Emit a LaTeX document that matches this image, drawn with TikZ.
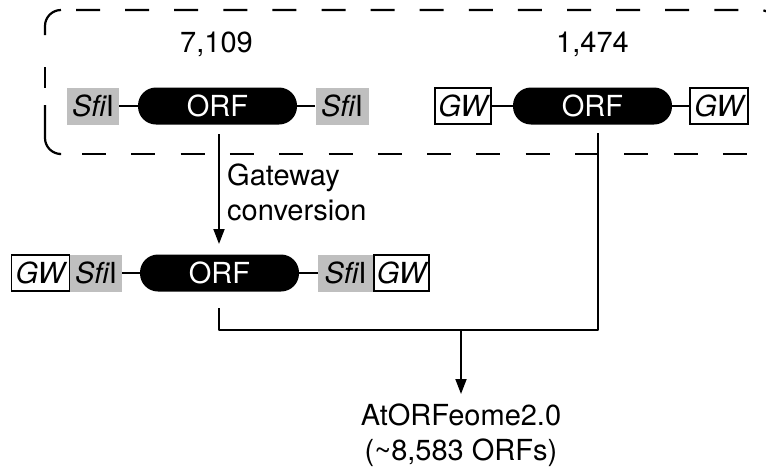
\documentclass[tikz,border=0pt]{standalone}
\usepackage{fontspec}
\setmainfont{TeX Gyre Heros}
\usetikzlibrary{arrows.meta}
\begin{document}
\begin{tikzpicture}[x=1pt,y=-1pt,
  every node/.style={font=\fontsize{29}{35}\selectfont, inner sep=0pt},
  site/.style={fill=black!25, minimum height=37pt},
  gw/.style={draw=black, fill=white, line width=1.3pt, minimum height=36pt},
  orf/.style={fill=black, text=white, rounded corners=18pt, minimum height=37pt, minimum width=159pt},
  link/.style={line width=1.8pt},
  frame/.style={line width=2.2pt},
  flow/.style={line width=1.8pt, -{Triangle[length=15pt,width=11pt]}}
]
\useasboundingbox (0,0) rectangle (766,474);
\clip (0,0) rectangle (766,474);

% dashed frame around the two source collections
\draw[frame, dash pattern=on 24pt off 25.1pt, rounded corners=16pt]
  (76,10) -- (776,10) -- (776,80);
\draw[frame, dash pattern=on 24pt off 25.3pt] (82,154) -- (800,154);
\draw[frame, rounded corners=16pt] (61,10) -- (45,10) -- (45,35);
\draw[frame] (45,67) -- (45,88);
\draw[frame, rounded corners=16pt] (45,105) -- (45,154) -- (59,154);

\node[anchor=base] (nA) at (216.5,52) {7,109};
\node[anchor=base] (nB) at (592.5,52) {1,474};

% SfiI-flanked ORF
\node[site, minimum width=52pt] (sA) at (93,106) {\itshape Sfi\upshape I};
\node[orf] (orfA) at (217.5,106) {ORF};
\node[site, minimum width=53pt] (sB) at (342,106) {\itshape Sfi\upshape I};
\draw[link] (sA) -- (orfA);
\draw[link] (orfA) -- (sB);

% Gateway-flanked ORF
\node[gw, minimum width=56pt] (gA) at (463,106) {\itshape GW};
\node[orf] (orfB) at (592.5,106) {ORF};
\node[gw, minimum width=58pt] (gB) at (719,106) {\itshape GW};
\draw[link] (gA) -- (orfB);
\draw[link] (orfB) -- (gB);

% converted clone
\node[site, minimum width=52pt] (s1) at (96,273) {\itshape Sfi\upshape I};
\node[gw, minimum width=58pt, anchor=east] (g1) at (s1.west) {\itshape GW};
\node[orf] (orfC) at (219.5,273) {ORF};
\node[site, minimum width=55pt] (s2) at (345.5,273) {\itshape Sfi\upshape I};
\node[gw, minimum width=55pt, anchor=west] (g2) at (s2.east) {\itshape GW};
\draw[link] (s1) -- (orfC);
\draw[link] (orfC) -- (s2);

% Gateway conversion step
\coordinate (cTop) at (219,134);
\coordinate (cEnd) at (219,244);
\draw[flow] (cTop) -- (cEnd);
\node[anchor=north west, align=left] (conv) at (227,164) {Gateway\\conversion};

% merge into the collection
\coordinate (mL0) at (219,308);
\coordinate (mL) at (219,330);
\coordinate (mR0) at (598,133);
\coordinate (mR) at (598,330);
\coordinate (mM) at (461,330);
\draw[link, line join=round] (mL0) -- (mL) -- (mR) -- (mR0);
\node[anchor=north, align=center] (res) at (461,404) {AtORFeome2.0\\(\textasciitilde8,583 ORFs)};
\draw[flow, shorten >=10pt] (mM) -- (res.north);
\end{tikzpicture}
\end{document}
